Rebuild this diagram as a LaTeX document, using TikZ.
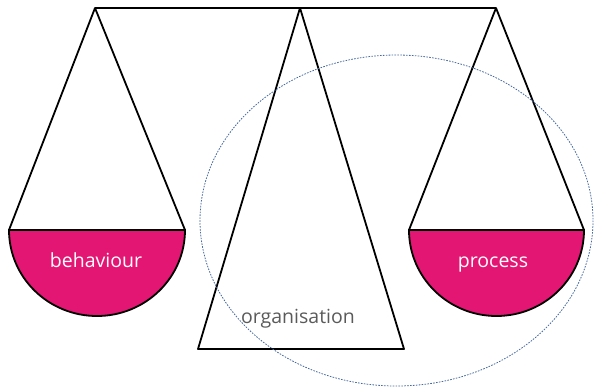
\documentclass[tikz,border=0pt]{standalone}
\usepackage{fontspec}
\setmainfont{Open Sans}
\definecolor{panpink}{RGB}{228,22,115}
\definecolor{dashblue}{RGB}{70,105,160}
\definecolor{labelgray}{RGB}{90,90,90}
\begin{document}
\begin{tikzpicture}[x=1pt,y=-1pt,
  beam/.style={draw=black,line width=1.8pt,line join=round},
  pan/.style={fill=panpink,draw=black,line width=1.8pt},
  ring/.style={draw=dashblue,line width=0.8pt,dash pattern=on 1.6pt off 1.3pt},
  panlabel/.style={text=white,anchor=base,inner sep=0pt,font=\fontsize{19.5}{20}\selectfont},
  midlabel/.style={text=labelgray,anchor=base,inner sep=0pt,font=\fontsize{19.5}{20}\selectfont}]
\useasboundingbox (0,0) rectangle (594,386);
% coordinates
\coordinate (ltop) at (95,8);
\coordinate (ctop) at (300,8);
\coordinate (rtop) at (496,8);
\coordinate (ll) at (9,230);
\coordinate (lr) at (185,230);
\coordinate (rl) at (409,230);
\coordinate (rr) at (584,230);
\coordinate (cl) at (198,349);
\coordinate (cr) at (404,349);
% beam
\draw[beam] (ltop) -- (rtop);
% center triangle
\draw[beam] (ctop) -- (cl) -- (cr) -- cycle;
% left pan
\draw[beam] (ll) -- (ltop) -- (lr);
\draw[pan] (ll) arc[start angle=180,end angle=360,x radius=88,y radius=-86] -- cycle;
% right pan
\draw[beam] (rl) -- (rtop) -- (rr);
\draw[pan] (rl) arc[start angle=180,end angle=360,x radius=87.5,y radius=-86] -- cycle;
% dashed ellipse
\draw[ring] (396.5,220.5) ellipse[x radius=196.5,y radius=165.5];
% labels
\node[panlabel] (beh) at (96,267) {behaviour};
\node[panlabel] (proc) at (493,267) {process};
\node[midlabel] (org) at (298,323) {organisation};
\end{tikzpicture}
\end{document}
